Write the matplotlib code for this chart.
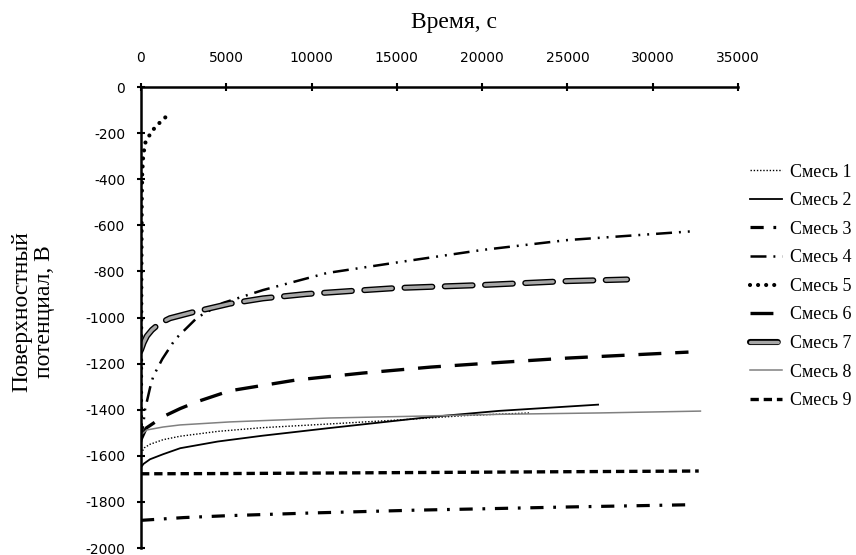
import matplotlib
matplotlib.use("Agg")
from matplotlib import pyplot as plt
import matplotlib.patheffects as pe

# surface potential decay for nine mixtures, time in seconds
t1 = [0, 200, 530, 1300, 2300, 4500, 7100, 11000, 15000, 19100, 22800]
v1 = [-1590, -1565, -1550, -1530, -1515, -1494, -1478, -1462, -1445, -1425, -1414]

t2 = [0, 150, 530, 1300, 2300, 4500, 7100, 11000, 16900, 21000, 26800]
v2 = [-1650, -1635, -1615, -1593, -1567, -1538, -1513, -1480, -1432, -1405, -1378]

t3 = [0, 2500, 5000, 10000, 16000, 20000, 25000, 32400]
v3 = [-1880, -1868, -1860, -1848, -1836, -1830, -1822, -1812]

t4 = [0, 60, 140, 235, 530, 720, 1250, 2000, 3300, 4800, 7150, 10900, 15200, 20000, 25000, 32500]
v4 = [-1540, -1500, -1460, -1400, -1305, -1255, -1180, -1095, -1000, -937, -881, -807, -759, -707, -664, -625]

t5 = [0, 10, 25, 45, 70, 120, 230, 530, 820, 1300, 1760]
v5 = [-1500, -1150, -800, -500, -380, -310, -245, -205, -175, -140, -110]

t6 = [0, 300, 1300, 2300, 3300, 5200, 9100, 13000, 17000, 21000, 25000, 32100]
v6 = [-1530, -1480, -1430, -1395, -1365, -1318, -1271, -1241, -1215, -1195, -1176, -1150]

t7 = [0, 150, 350, 640, 1100, 1700, 3050, 5200, 7150, 9700, 12500, 15000, 20000, 25000, 28500]
v7 = [-1141, -1110, -1080, -1054, -1025, -1003, -977, -940, -917, -898, -884, -872, -859, -842, -835]

t8 = [0, 330, 1300, 2300, 5200, 11000, 16900, 21000, 26900, 32800]
v8 = [-1510, -1488, -1475, -1466, -1453, -1436, -1427, -1420, -1414, -1406]

t9 = [0, 5000, 10000, 15000, 20000, 25000, 32700]
v9 = [-1678, -1677, -1675, -1673, -1671, -1669, -1666]

labels = ["Смесь %d" % i for i in range(1, 10)]
x_ticks = list(range(0, 35001, 5000))
y_ticks = list(range(-2000, 1, 200))

plt.rcParams["lines.scale_dashes"] = False
plt.rcParams["axes.unicode_minus"] = False
plt.rcParams["font.family"] = "DejaVu Sans"

fig = plt.figure(figsize=(8.56, 5.55), dpi=100)
ax = fig.add_axes([0.1647, 0.0126, 0.6974, 0.8306])

ax.plot(t1, v1, color="black", lw=1.0, dashes=(1, 1.3), label=labels[0])
ax.plot(t2, v2, color="black", lw=1.3, label=labels[1])
ax.plot(t3, v3, color="black", lw=2.3, dashes=(9.5, 7, 2, 7), label=labels[2])
ax.plot(t4, v4, color="black", lw=1.8, dashes=(11.5, 5, 1.4, 5, 1.4, 5), label=labels[3])
ax.plot(t5, v5, color="black", lw=3.0, dashes=(0.01, 5.8), dash_capstyle="round", label=labels[4])
ax.plot(t6, v6, color="black", lw=2.4, dashes=(16.5, 10), label=labels[5])
ax.plot(t7, v7, color="#a6a6a6", lw=2.4, dashes=(20, 9), dash_capstyle="round",
        path_effects=[pe.Stroke(linewidth=4.4, foreground="black"), pe.Normal()],
        label=labels[6])
ax.plot(t8, v8, color="#808080", lw=1.1, label=labels[7])
ax.plot(t9, v9, color="black", lw=2.4, dashes=(6, 3.5), label=labels[8])

ax.set_xlim(0, 35000)
ax.set_ylim(-2000, 0)
ax.set_xticks(x_ticks)
ax.set_yticks(y_ticks)
ax.xaxis.tick_top()
for side in ["right", "bottom"]:
    ax.spines[side].set_visible(False)
for side in ["top", "left"]:
    ax.spines[side].set_linewidth(1.8)
ax.tick_params(axis="x", direction="inout", length=6, width=1.5, pad=13, labelsize=10)
ax.tick_params(axis="y", direction="inout", length=6, width=1.5, pad=8.5, labelsize=10)

fig.text(0.530, 0.960, "Время, с", ha="center", va="center",
         family="Liberation Serif", fontsize=17)
fig.text(0.039, 0.438, "Поверхностный\nпотенциал, В", rotation=90, ha="center",
         va="center", multialignment="center", linespacing=1.1,
         family="Liberation Serif", fontsize=17)

leg = ax.legend(loc="center left", bbox_to_anchor=(0.876, 0.484),
                bbox_transform=fig.transFigure, frameon=False, borderpad=0,
                borderaxespad=0, handlelength=1.8, handletextpad=0.45,
                labelspacing=0.64, prop={"family": "Liberation Serif", "size": 13})

fig.savefig("out.png", dpi=100)
